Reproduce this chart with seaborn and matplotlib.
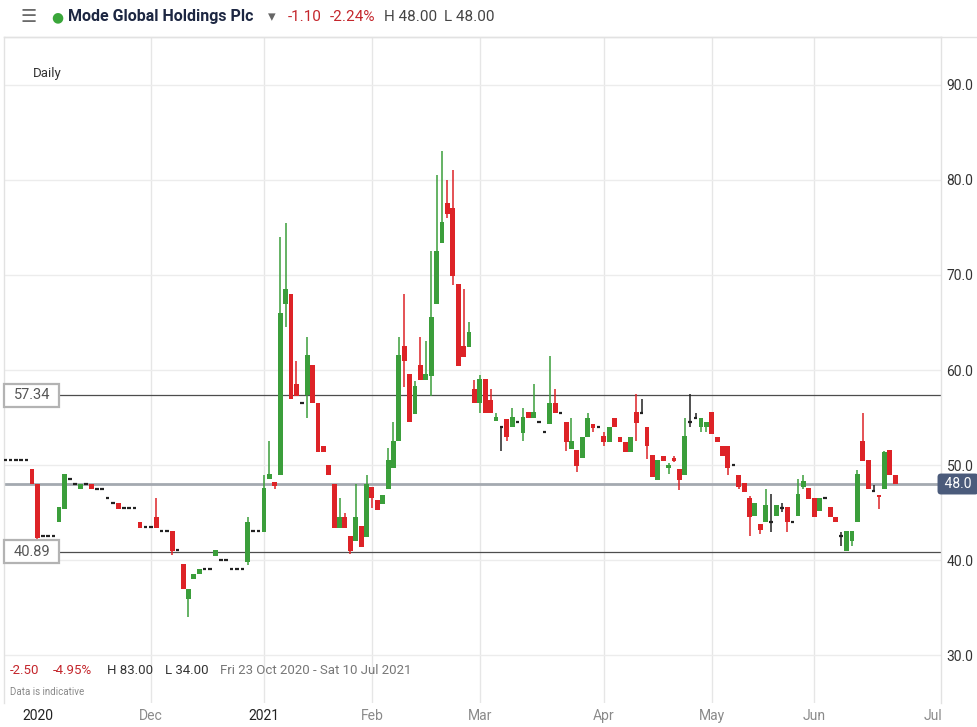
import numpy as np
import pandas as pd
import matplotlib
matplotlib.use("Agg")
import matplotlib.pyplot as plt
import matplotlib.transforms as mtransforms
from matplotlib.patches import Rectangle
from matplotlib.lines import Line2D
import seaborn as sns

# trading calendar (UK holidays skipped, like the broker chart)
holidays = ["2020-12-25", "2020-12-28", "2021-01-01", "2021-04-02",
            "2021-04-05", "2021-05-03", "2021-05-31"]
calendar = pd.bdate_range("2020-10-23", "2021-07-09")
calendar = calendar[~calendar.isin(pd.to_datetime(holidays))]

# daily OHLC, Mode Global Holdings Plc (pence)
opens = [
    50.5, 50.5, 50.5, 50.5, 50.5, 49.6, 48.0, 42.5, 42.5, 42.5,
    44.0, 45.4, 48.5, 48.0, 47.45, 48.0, 48.0, 47.5, 47.5, 46.5,
    46.0, 46.0, 45.5, 45.5, 45.5, 44.0, 43.5, 43.5, 44.5, 43.05,
    43.05, 43.05, 41.05, 39.6, 35.9, 37.95, 38.5, 39.05, 39.05, 40.45,
    40.0, 40.0, 39.05, 39.05, 39.05, 39.8, 43.05, 43.05, 43.0, 48.5,
    48.25, 48.95, 66.95, 68.0, 58.5, 56.55, 57.35, 60.55, 56.5, 51.95,
    49.95, 48.0, 43.4, 44.55, 42.5, 42.0, 43.6, 42.45, 47.65, 46.3,
    45.85, 47.45, 49.7, 52.5, 62.55, 59.6, 55.4, 60.55, 59.0, 59.4,
    66.95, 73.4, 77.6, 77.1, 69.05, 62.55, 62.45, 58.05, 56.5, 59.05,
    56.85, 54.65, 53.95, 54.85, 53.95, 54.5, 53.4, 55.6, 55.0, 54.5,
    53.5, 54.3, 56.5, 55.5, 54.5, 51.65, 51.6, 50.7, 53.0, 54.3,
    53.95, 53.05, 52.45, 55.0, 53.0, 52.45, 51.35, 55.6, 55.5, 53.95,
    51.05, 48.4, 50.9, 49.7, 50.7, 49.55, 48.95, 54.5, 55.0, 53.95,
    53.95, 55.55, 52.9, 51.95, 51.95, 49.95, 49.0, 48.15, 46.5, 44.65,
    43.8, 43.95, 43.95, 44.65, 45.5, 45.55, 43.95, 44.65, 47.7, 47.6,
    46.5, 45.2, 46.5, 45.6, 44.55, 42.55, 40.9, 41.95, 43.95, 52.55,
    50.55, 47.25, 46.85, 47.45, 51.6, 49.0,
]
highs = [
    50.5, 50.5, 50.5, 50.5, 50.5, 49.6, 48.0, 42.5, 42.5, 42.5,
    45.55, 49.05, 48.5, 48.0, 48.0, 48.0, 48.0, 47.5, 47.5, 46.5,
    46.0, 46.0, 45.5, 45.5, 45.5, 44.0, 43.5, 43.5, 46.55, 43.05,
    43.05, 43.05, 41.05, 39.6, 37.0, 38.5, 39.05, 39.05, 39.05, 41.05,
    40.0, 40.0, 39.05, 39.05, 39.05, 44.55, 43.05, 43.05, 48.95, 52.5,
    48.25, 74.0, 75.5, 68.0, 60.95, 56.55, 63.5, 60.55, 56.5, 51.95,
    49.95, 48.0, 46.55, 44.9, 42.5, 48.0, 43.6, 48.95, 47.65, 46.3,
    46.85, 51.75, 54.55, 63.5, 68.0, 59.6, 58.8, 63.5, 63.0, 72.5,
    80.5, 83.0, 80.0, 81.0, 69.05, 68.5, 65.0, 59.0, 59.5, 59.05,
    58.05, 55.5, 53.95, 54.85, 56.0, 54.5, 56.0, 55.6, 58.5, 54.5,
    53.5, 61.45, 58.0, 55.5, 54.5, 54.9, 51.6, 53.0, 55.45, 54.3,
    53.95, 53.45, 53.95, 55.0, 53.0, 52.45, 53.0, 57.45, 56.9, 53.95,
    51.05, 50.55, 50.9, 50.2, 50.9, 49.55, 54.9, 57.45, 55.45, 55.0,
    54.5, 55.55, 52.9, 51.95, 51.95, 49.95, 49.0, 48.15, 46.7, 45.95,
    43.8, 47.45, 46.95, 45.8, 45.95, 45.55, 43.95, 48.5, 48.95, 47.6,
    46.5, 46.55, 46.5, 45.6, 44.55, 43.0, 43.05, 43.05, 49.45, 55.5,
    50.55, 47.9, 46.85, 51.5, 51.6, 49.0,
]
lows = [
    50.5, 50.5, 50.5, 50.5, 50.5, 48.0, 42.1, 42.5, 42.5, 42.5,
    44.0, 45.4, 48.5, 48.0, 47.45, 48.0, 47.45, 47.5, 47.5, 46.5,
    46.0, 45.4, 45.5, 45.5, 45.5, 43.4, 43.5, 43.5, 43.4, 43.05,
    43.05, 40.5, 41.05, 36.95, 34.0, 37.95, 38.5, 39.05, 39.05, 40.45,
    40.0, 40.0, 39.05, 39.05, 39.05, 39.45, 43.05, 43.05, 43.0, 48.5,
    47.5, 48.95, 64.55, 56.95, 57.3, 56.55, 55.0, 56.5, 51.4, 51.4,
    48.95, 43.4, 43.4, 43.4, 40.6, 42.0, 41.4, 42.45, 45.5, 45.3,
    45.85, 47.45, 49.7, 52.5, 58.25, 54.5, 55.4, 59.0, 59.0, 57.3,
    66.95, 73.4, 75.95, 68.95, 60.45, 61.4, 62.45, 56.5, 55.5, 55.45,
    55.45, 54.65, 51.5, 52.55, 53.95, 54.5, 52.55, 55.0, 55.0, 54.5,
    53.5, 54.3, 55.45, 55.5, 51.5, 51.65, 49.25, 50.7, 53.0, 53.5,
    53.95, 52.0, 52.45, 53.95, 52.45, 51.35, 51.35, 52.55, 55.5, 50.6,
    48.7, 48.4, 50.45, 49.05, 50.3, 47.35, 48.95, 54.05, 55.0, 53.5,
    53.5, 53.25, 52.45, 51.0, 49.0, 49.95, 47.5, 47.2, 42.55, 44.65,
    42.75, 43.95, 43.0, 44.65, 45.1, 43.0, 43.95, 44.65, 47.5, 46.4,
    44.5, 45.2, 46.5, 44.5, 43.95, 41.5, 40.9, 41.5, 43.95, 50.45,
    47.45, 47.25, 45.35, 47.45, 49.0, 47.95,
]
closes = [
    50.5, 50.5, 50.5, 50.5, 50.5, 48.0, 42.3, 42.5, 42.5, 42.5,
    45.55, 49.05, 48.5, 48.0, 48.0, 48.0, 47.45, 47.5, 47.5, 46.5,
    46.0, 45.4, 45.5, 45.5, 45.5, 43.4, 43.5, 43.5, 43.4, 43.05,
    43.05, 40.95, 41.05, 36.95, 37.0, 38.5, 39.05, 39.05, 39.05, 41.05,
    40.0, 40.0, 39.05, 39.05, 39.05, 44.05, 43.05, 43.05, 47.55, 49.05,
    47.8, 65.95, 68.5, 56.95, 57.3, 56.55, 61.6, 56.5, 51.4, 51.4,
    48.95, 43.4, 44.55, 43.4, 40.95, 44.55, 41.4, 48.0, 46.55, 45.3,
    46.85, 50.55, 52.5, 61.6, 60.95, 54.5, 58.3, 59.0, 59.6, 65.6,
    72.55, 75.6, 76.4, 69.9, 60.45, 61.4, 64.05, 56.5, 59.05, 55.45,
    55.45, 55.1, 53.95, 53.0, 55.1, 54.5, 55.1, 55.0, 55.6, 54.5,
    53.5, 56.5, 55.45, 55.5, 52.45, 52.55, 49.9, 53.0, 55.0, 53.85,
    53.95, 52.45, 53.95, 53.95, 52.45, 51.35, 53.0, 54.45, 55.5, 51.95,
    48.7, 50.55, 50.45, 50.0, 50.45, 48.4, 53.05, 54.5, 55.0, 55.0,
    54.5, 53.25, 52.45, 51.0, 49.7, 49.95, 47.65, 47.2, 44.5, 45.95,
    43.15, 45.8, 43.95, 45.8, 45.5, 43.95, 43.95, 47.0, 48.35, 46.4,
    44.5, 46.55, 46.5, 44.5, 43.95, 42.55, 43.05, 43.05, 49.05, 50.45,
    47.45, 47.25, 46.65, 51.4, 49.0, 47.95,
]

month_starts = ["2020-11-01", "2020-12-01", "2021-01-01", "2021-02-01", "2021-03-01",
                "2021-04-01", "2021-05-01", "2021-06-01", "2021-07-01"]
month_labels = ["2020", "Dec", "2021", "Feb", "Mar", "Apr", "May", "Jun", "Jul"]
y_ticks = [30, 40, 50, 60, 70, 80, 90]
support, resistance, last_price = 40.89, 57.34, 48.0

GREEN = "#3b9e3b"
RED = "#dd2327"
DARK = "#222222"

df = pd.DataFrame({"open": opens, "high": highs, "low": lows, "close": closes})
df["date"] = calendar[:len(df)]
df["pos"] = np.arange(len(df))
df["color"] = np.where(df.close > df.open, GREEN, np.where(df.close < df.open, RED, DARK))
flat = df.close == df.open

sns.set_theme(style="white")
plt.rcParams["font.family"] = ["Roboto", "DejaVu Sans"]

W, H = 977, 727
fig = plt.figure(figsize=(W / 100, H / 100), dpi=100)
ax = fig.add_axes([4 / W, 1 - 703 / H, 937 / W, 666 / H])

# grid
ax.set_ylim(24.95, 95.05)
ax.set_xlim(-0.2, 173.5)
ax.set_yticks(y_ticks)
ax.grid(axis="y", color="#ececec", lw=1)
tick_pos = [int(np.searchsorted(calendar, pd.Timestamp(m))) for m in month_starts]
for p in tick_pos[1:-1]:
    ax.axvline(p, color="#e6e6e6", lw=1, zorder=0)

# candles
ax.vlines(df.pos, df.low, df.high, colors=df.color, lw=1.1, zorder=3)
body = df[~flat]
ax.bar(body.pos, (body.close - body.open).abs(), bottom=body[["open", "close"]].min(axis=1),
       width=0.9, color=body.color, linewidth=0, zorder=4)
fl = df[flat]
ax.hlines(fl.open, fl.pos - 0.33, fl.pos + 0.33, colors=DARK, lw=1.6, zorder=4)

# reference lines
ax.axhline(last_price, color="#a4a9b0", lw=2, zorder=2)
ax.axhline(resistance, color="#4d4d4d", lw=0.9, zorder=2)
ax.axhline(support, color="#4d4d4d", lw=0.9, zorder=2)

blend = mtransforms.blended_transform_factory(ax.transAxes, ax.transData)
for lvl in (resistance, support):
    ax.add_patch(Rectangle((0.0, lvl - 1.2), 55 / 937, 2.4, transform=blend,
                           fc="white", ec="#b3b3b3", lw=1.6, zorder=6, clip_on=False))
    ax.text(28 / 937, lvl, f"{lvl:.2f}", transform=blend, ha="center", va="center",
            fontsize=10.5, color="#555555", zorder=7)

ax.text(1.0, last_price, " 48.0 ", transform=blend, ha="left", va="center",
        fontsize=10, color="white", zorder=7, clip_on=False,
        bbox=dict(boxstyle="round,pad=0.25,rounding_size=0.25", fc="#4b5b7b", ec="none"))

# axes styling
ax.yaxis.tick_right()
ax.set_yticklabels([f"{v:.1f}" for v in y_ticks])
ax.tick_params(axis="y", length=0, pad=4, labelsize=10, labelcolor="#333333")
ax.set_xticks(tick_pos)
ax.set_xticklabels(month_labels)
ax.tick_params(axis="x", length=0, pad=4, labelsize=10)
for lab in ax.get_xticklabels():
    if lab.get_text().isdigit():
        lab.set_color("#222222")
    else:
        lab.set_color("#8a8a8a")
for side in ("left", "right", "top"):
    ax.spines[side].set_color("#e2e2e2")
    ax.spines[side].set_linewidth(1)
ax.spines["bottom"].set_visible(False)

# header
fig.add_artist(Line2D([4 / W, 1], [1 - 37 / H] * 2, color="#e2e2e2", lw=1))
fig.text(20 / W, 1 - 17 / H, "\u2630", fontsize=13, color="#6b6b6b", va="center",
         family="DejaVu Sans")
fig.text(57 / W, 1 - 17 / H, "\u25cf", fontsize=10, color="#3aa63a", va="center",
         ha="center", family="DejaVu Sans")
fig.text(68 / W, 1 - 17 / H, "Mode Global Holdings Plc", fontsize=11.5, weight="bold",
         color="#1d2742", va="center")
fig.text(268 / W, 1 - 17 / H, "\u25be", fontsize=11, color="#666666", va="center",
         family="DejaVu Sans")
fig.text(288 / W, 1 - 17 / H, "-1.10", fontsize=11, color="#c4262c", va="center")
fig.text(330 / W, 1 - 17 / H, "-2.24%", fontsize=11, color="#c4262c", va="center")
fig.text(384 / W, 1 - 17 / H, "H 48.00", fontsize=11, color="#444444", va="center")
fig.text(444 / W, 1 - 17 / H, "L 48.00", fontsize=11, color="#444444", va="center")

fig.text(33 / W, 1 - 73 / H, "Daily", fontsize=9.5, color="#333333", va="center")

# footer info
fig.text(10 / W, 1 - 670 / H, "-2.50", fontsize=9.5, color="#c4262c", va="center")
fig.text(53 / W, 1 - 670 / H, "-4.95%", fontsize=9.5, color="#c4262c", va="center")
fig.text(107 / W, 1 - 670 / H, "H 83.00", fontsize=9.5, color="#333333", va="center")
fig.text(165 / W, 1 - 670 / H, "L 34.00", fontsize=9.5, color="#333333", va="center")
fig.text(220 / W, 1 - 670 / H, "Fri 23 Oct 2020 - Sat 10 Jul 2021", fontsize=9.5,
         color="#777777", va="center")
fig.text(10 / W, 1 - 692 / H, "Data is indicative", fontsize=7, color="#888888", va="center")

fig.savefig("out.png", dpi=100, facecolor="white")
